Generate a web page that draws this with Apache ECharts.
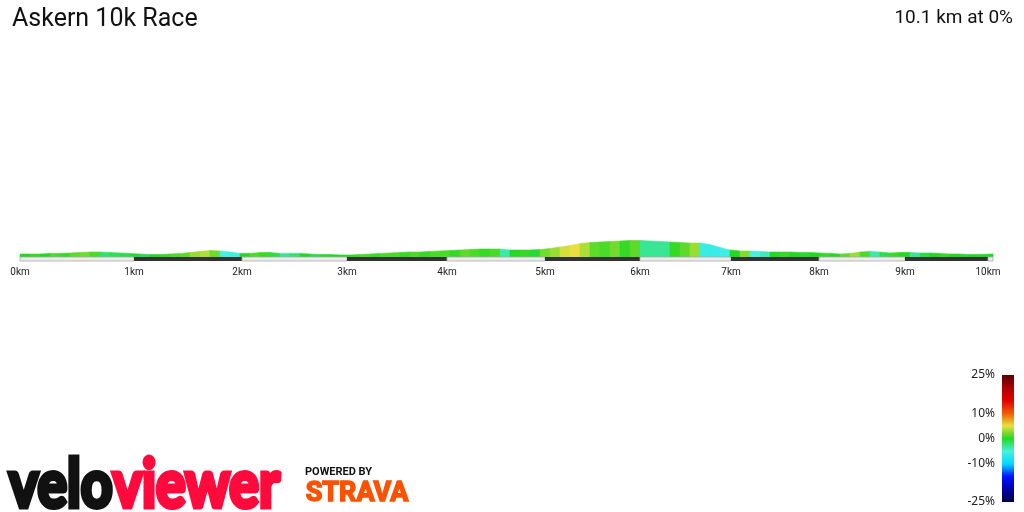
<!DOCTYPE html>
<html>
<head>
<meta charset="utf-8">
<title>Askern 10k Race</title>
<script src="https://cdn.jsdelivr.net/npm/echarts@6/dist/echarts.min.js"></script>
<style>
  html, body { margin: 0; padding: 0; background: #fff; }
  #chart { width: 1024px; height: 512px; }
</style>
</head>
<body>
<div id="chart"></div>
<script>
// route summary
const routeName = "Askern 10k Race";
const routeDistanceKm = 10.1;
const routeAvgGrade = 0;

// position along the drawn track (the profile is drawn in perspective, so km marks are not evenly spaced)
const trackPos = [0,10,20,30,40,50,60,70,80,90,100,110,120,130,140,150,160,170,180,190,200,210,220,230,240,250,260,270,280,290,300,310,320,330,340,350,360,370,380,390,400,410,420,430,440,450,460,470,480,490,500,510,520,530,540,550,560,570,580,590,600,610,620,630,640,650,660,670,680,690,700,710,720,730,740,750,760,770,780,790,800,810,820,830,840,850,860,870,880,890,900,910,920,930,940,950,960,970,973];

// profile height at each position
const elevation = [3,3,3,3.5,3.5,4,4.5,5,5,4.5,4,3.5,3,2.5,2.5,3,3.5,4.5,5.5,6.5,6,5,3.5,3.5,4.5,4.5,3.5,3.5,3.5,3,2.5,2.5,2,2,2.5,3,3.5,4,4.5,5,5,5.5,6,6.5,7,7.5,8,8,8,7,7,7,7.5,8.5,10,11.5,13.5,14.5,15,15.5,16,16.5,16.5,16,15.5,15,14.5,14,14,12.5,9.5,7,6,6,5.5,5,5,5,4.5,4.5,4,3.5,3,3.5,5,5.5,5,4,4.5,4.5,4,4,3.5,3,3,2.5,2.5,3,3];

// gradient (%) of each segment between two positions
const gradePct = [0,0.5,0,1,0.5,1.5,2,1,-2,-1.5,-1,-0.5,-1,0,0.5,1,1.5,3,3.5,2,-5,-5.5,0,1,0.5,-1,-3,-2,0,-1,-0.5,0,0,0.5,1,0.5,1,1,0.5,1,0.5,1,1,0.5,1.5,1,0.5,1,-3.5,0,0.5,-0.5,2,3,4.5,5,3.5,1.5,1,2,0.5,1.5,-3,-3,-3,0.5,1.5,3,-6,-6,-5.5,0,2.5,-5,-4,0,0.5,0,-0.5,0,0.5,0,1.5,3,1,-3.5,-1,0.5,0,-3,-1,0,0.5,0,-0.5,0,0,0];

// km markers along the track
const kmMarks = [0,114,222,327,427,525,620,711,799,885,968];
const kmLabels = ["0km","1km","2km","3km","4km","5km","6km","7km","8km","9km","10km"];
const trackEnd = 973;

// gradient colour scale
const gradeMin = -25;
const gradeMax = 25;
const gradeTicks = [-25,-10,0,10,25];
const gradeColors = ["#00004a","#0000a8","#0010ff","#00d8ff","#48f0e0","#22d822","#e8e040","#f05a00","#e00000","#b00000","#5a0000"];

const segData = [];
for (let i = 0; i < gradePct.length; i++) {
  segData.push([trackPos[i], elevation[i], trackPos[i + 1], elevation[i + 1], gradePct[i]]);
}

const stripData = [];
const stripEdges = kmMarks.concat([trackEnd]);
for (let i = 0; i < stripEdges.length - 1; i++) {
  stripData.push([stripEdges[i], stripEdges[i + 1], i]);
}

const chart = echarts.init(document.getElementById("chart"));

const barStops = gradeColors.slice().reverse().map((c, i, arr) => ({ offset: i / (arr.length - 1), color: c }));

const option = {
  animation: false,
  backgroundColor: "#fff",
  title: [
    {
      text: routeName,
      left: 12,
      top: 7,
      padding: 0,
      textStyle: { fontFamily: "Roboto", fontSize: 25, fontWeight: "normal", color: "#111" },
    },
    {
      text: routeDistanceKm + " km at " + routeAvgGrade + "%",
      right: 11,
      top: 9,
      padding: 0,
      textStyle: { fontFamily: "Roboto", fontSize: 19, fontWeight: "normal", color: "#111" },
    },
  ],
  visualMap: {
    type: "continuous",
    show: false,
    min: gradeMin,
    max: gradeMax,
    dimension: 4,
    seriesIndex: 0,
    inRange: { color: gradeColors },
  },
  grid: [
    { left: 20, width: trackEnd, top: 217, bottom: 255, containLabel: false },
    { left: 1002, width: 12, top: 375, height: 127, containLabel: false },
  ],
  xAxis: [
    {
      type: "value",
      min: 0,
      max: trackEnd,
      axisLine: { show: false },
      axisTick: { show: false },
      splitLine: { show: false },
      axisLabel: {
        customValues: kmMarks,
        margin: 10,
        fontFamily: "Roboto",
        fontSize: 10,
        color: "#222",
        formatter: (v) => kmLabels[kmMarks.indexOf(v)],
      },
    },
    { gridIndex: 1, type: "value", min: 0, max: 1, show: false },
  ],
  yAxis: [
    { type: "value", min: 0, max: 40, show: false },
    {
      gridIndex: 1,
      type: "value",
      min: gradeMin,
      max: gradeMax,
      axisLine: { show: false },
      axisTick: { show: false },
      splitLine: { show: false },
      axisLabel: {
        customValues: gradeTicks,
        margin: 7,
        fontFamily: "Noto Sans",
        fontSize: 12,
        color: "#222",
        formatter: "{value}%",
      },
    },
  ],
  series: [
    {
      // elevation profile, each slice coloured by its gradient
      type: "custom",
      clip: false,
      data: segData,
      renderItem: (params, api) => {
        const a0 = api.coord([api.value(0), 0]);
        const a1 = api.coord([api.value(0), api.value(1)]);
        const b1 = api.coord([api.value(2), api.value(3)]);
        const b0 = api.coord([api.value(2), 0]);
        const c = api.visual("color");
        return {
          type: "polygon",
          shape: { points: [a0, a1, b1, b0] },
          style: { fill: c, stroke: c, lineWidth: 0.6 },
        };
      },
    },
    {
      // alternating km strip under the profile
      type: "custom",
      clip: false,
      data: stripData,
      renderItem: (params, api) => {
        const p0 = api.coord([api.value(0), 0]);
        const p1 = api.coord([api.value(1), 0]);
        const dark = api.value(2) % 2 === 1;
        return {
          type: "rect",
          shape: { x: p0[0], y: p0[1], width: p1[0] - p0[0], height: 4 },
          style: dark ? { fill: "#333" } : { fill: "#ececec", stroke: "#aaa", lineWidth: 0.8 },
        };
      },
    },
    {
      // gradient colour bar
      type: "custom",
      xAxisIndex: 1,
      yAxisIndex: 1,
      data: [[0, gradeMin, 1, gradeMax]],
      renderItem: (params, api) => {
        const top = api.coord([api.value(0), api.value(3)]);
        const bot = api.coord([api.value(2), api.value(1)]);
        return {
          type: "rect",
          shape: { x: top[0], y: top[1], width: bot[0] - top[0], height: bot[1] - top[1] },
          style: { fill: new echarts.graphic.LinearGradient(0, 0, 0, 1, barStops) },
        };
      },
    },
  ],
  graphic: [
    {
      type: "text",
      left: 7,
      top: 450,
      scaleX: 0.84,
      style: {
        text: "{a|velo}{b|viewer}",
        rich: {
          a: { fontFamily: "Lato", fontWeight: "bold", fontSize: 66, fill: "#111", stroke: "#111", lineWidth: 5 },
          b: { fontFamily: "Lato", fontWeight: "bold", fontSize: 66, fill: "#ff0a3c", stroke: "#ff0a3c", lineWidth: 5 },
        },
      },
    },
    {
      type: "text",
      left: 305,
      top: 467,
      style: { text: "POWERED BY", fontFamily: "Roboto", fontWeight: "bold", fontSize: 11, fill: "#111" },
    },
    {
      type: "text",
      left: 305,
      top: 480,
      style: { text: "STRAVA", fontFamily: "Roboto", fontWeight: "bold", fontSize: 27, fill: "#fc5200", stroke: "#fc5200", lineWidth: 1.5 },
    },
  ],
};

chart.setOption(option);
</script>
</body>
</html>
